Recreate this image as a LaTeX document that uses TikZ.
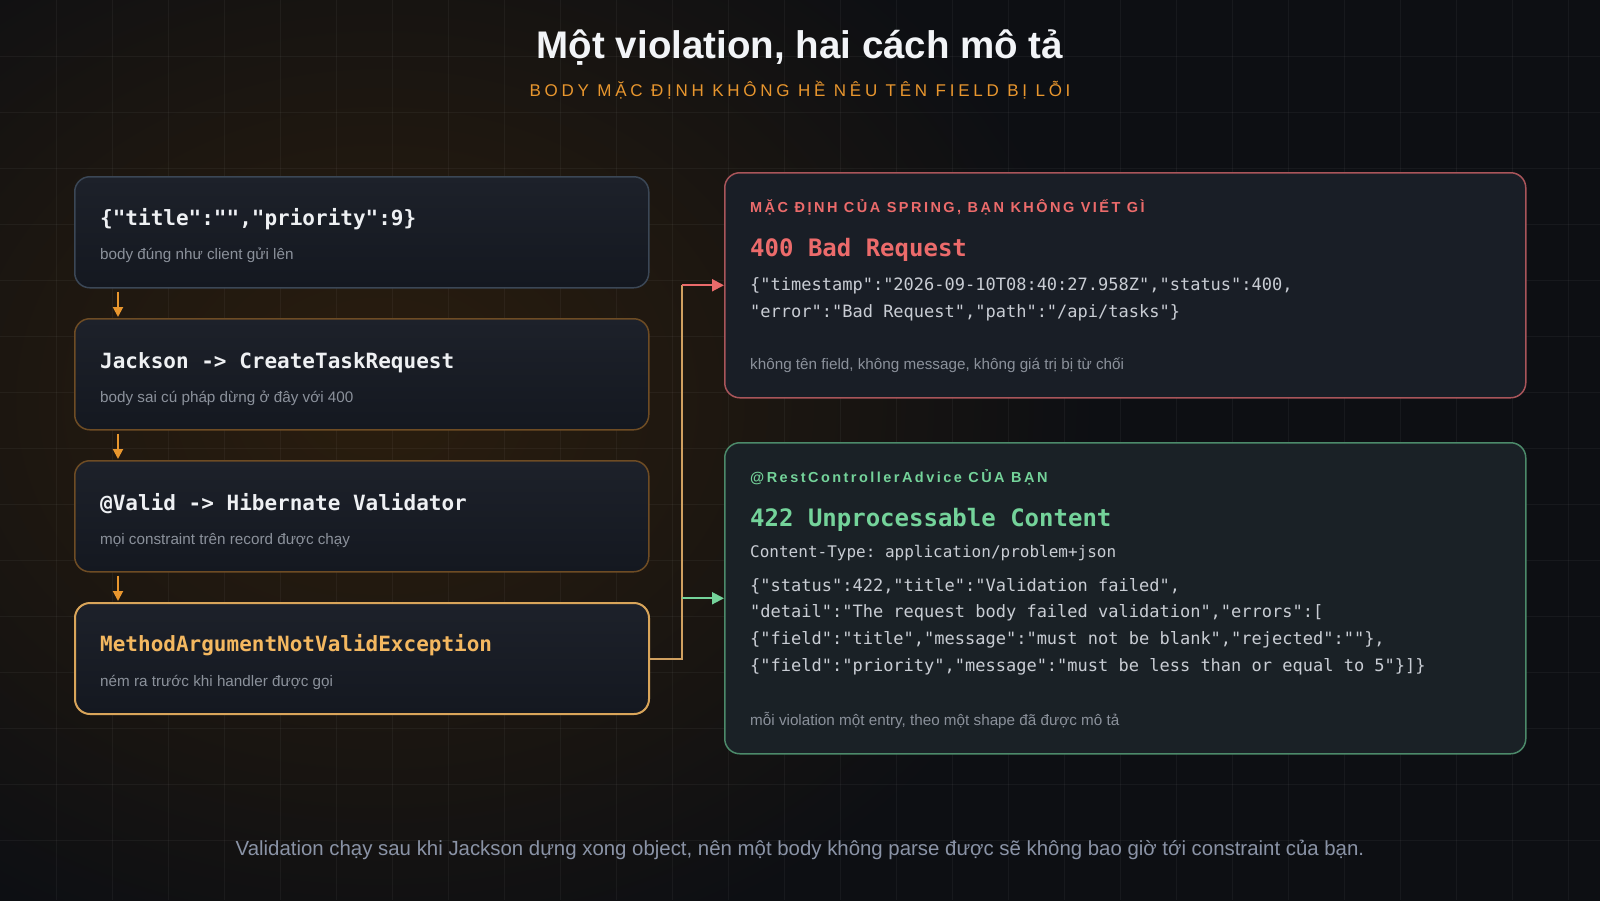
\documentclass[tikz,border=0pt]{standalone}
\usepackage{fontspec}
\setmainfont{Liberation Sans}
\newfontfamily\mono{DejaVu Sans Mono}
\newfontfamily\spaced[LetterSpace=22]{Liberation Sans}
\newfontfamily\lblfont[LetterSpace=17]{Liberation Sans}
\usetikzlibrary{arrows.meta}
\frenchspacing
\definecolor{bgc}{HTML}{0D0F13}
\definecolor{glowc}{HTML}{2A1D0E}
\definecolor{titlec}{HTML}{F2F4F7}
\definecolor{orangec}{HTML}{E8962E}
\definecolor{codewhite}{HTML}{EEF0F3}
\definecolor{subc}{HTML}{8B919B}
\definecolor{goldc}{HTML}{F4B860}
\definecolor{goldborder}{HTML}{D9A55A}
\definecolor{brownborder}{HTML}{6E4C24}
\definecolor{blueborder}{HTML}{3B4756}
\definecolor{redc}{HTML}{EC6B6B}
\definecolor{redborder}{HTML}{A9555A}
\definecolor{greenc}{HTML}{74D39A}
\definecolor{greenborder}{HTML}{4C8A6A}
\definecolor{jsonc}{HTML}{C9CDD4}
\definecolor{bottomc}{HTML}{8A93A6}
\definecolor{tanc}{HTML}{D0A060}
\definecolor{boxtop}{HTML}{1D212A}
\definecolor{boxbot}{HTML}{141820}
\definecolor{rboxfill}{HTML}{191E26}
\definecolor{gboxfill}{HTML}{1A2126}
\pgfdeclareradialshading{glow}{\pgfpoint{0bp}{0bp}}{color(0bp)=(glowc); color(10bp)=(glowc!65!bgc); color(25bp)=(bgc); color(50bp)=(bgc)}
\tikzset{
  gridline/.style={draw=white, draw opacity=0.045, line width=1pt},
  lbox/.style={rounded corners=15pt, line width=1.5pt, top color=boxtop, bottom color=boxbot, minimum width=574pt, minimum height=111pt, anchor=north west, inner sep=0pt},
  rbox/.style={rounded corners=15pt, line width=1.5pt, minimum width=801pt, anchor=north west, inner sep=0pt},
  boxtitle/.style={anchor=base west, inner sep=0pt, font=\mono\bfseries\fontsize{21}{25}\selectfont},
  boxsub/.style={anchor=base west, inner sep=0pt, text=subc, font=\fontsize{15.25}{18}\selectfont},
  rlabel/.style={anchor=base west, inner sep=0pt, font=\lblfont\bfseries\fontsize{14.5}{17}\selectfont},
  rtitle/.style={anchor=base west, inner sep=0pt, font=\mono\bfseries\fontsize{24}{28}\selectfont},
  jsonline/.style={anchor=base west, inner sep=0pt, text=jsonc, font=\mono\fontsize{17}{20}\selectfont},
  stepflow/.style={draw=orangec, line width=2pt, -{Triangle[length=10pt,width=10pt]}},
}
\begin{document}
\begin{tikzpicture}[x=1pt,y=-1pt]
\useasboundingbox (0,0) rectangle (1600,900);
\fill[bgc] (-10,-10) rectangle (1610,910);
\shade[shading=glow] (380,400) ellipse [x radius=720, y radius=580];
\foreach \i in {56,112,...,1568} \draw[gridline] (\i,0) -- (\i,900);
\foreach \j in {56,112,...,840} \draw[gridline] (0,\j) -- (1600,\j);

% title
\node[text=titlec, font=\bfseries\fontsize{38.5}{44}\selectfont, anchor=base, inner sep=0pt] (title) at (800,58) {Một violation, hai cách mô tả};
\node[text=orangec, font=\spaced\fontsize{17}{20}\selectfont, anchor=base, inner sep=0pt] (subtitle) at (800,96) {BODY MẶC ĐỊNH KHÔNG HỀ NÊU TÊN FIELD BỊ LỖI};

% left boxes
\node[lbox, draw=blueborder] (b1) at (74,176) {};
\node[lbox, draw=brownborder] (b2) at (74,318) {};
\node[lbox, draw=brownborder] (b3) at (74,460) {};
\node[lbox, draw=goldborder, line width=2pt] (b4) at (74,602) {};

\node[boxtitle, text=codewhite] (t1) at ([xshift=26pt,yshift=-49pt]b1.north west) {\{"title":"","priority":9\}};
\node[boxsub] (s1) at ([xshift=26pt,yshift=-83pt]b1.north west) {body đúng như client gửi lên};
\node[boxtitle, text=codewhite] (t2) at ([xshift=26pt,yshift=-50pt]b2.north west) {Jackson -> CreateTaskRequest};
\node[boxsub] (s2) at ([xshift=26pt,yshift=-84pt]b2.north west) {body sai cú pháp dừng ở đây với 400};
\node[boxtitle, text=codewhite] (t3) at ([xshift=26pt,yshift=-50pt]b3.north west) {@Valid -> Hibernate Validator};
\node[boxsub] (s3) at ([xshift=26pt,yshift=-84pt]b3.north west) {mọi constraint trên record được chạy};
\node[boxtitle, text=goldc] (t4) at ([xshift=26pt,yshift=-49pt]b4.north west) {MethodArgumentNotValidException};
\node[boxsub] (s4) at ([xshift=26pt,yshift=-84pt]b4.north west) {ném ra trước khi handler được gọi};

\draw[stepflow] ([xshift=44pt,yshift=-3pt]b1.south west) -- ([xshift=44pt,yshift=1pt]b2.north west);
\draw[stepflow] ([xshift=44pt,yshift=-3pt]b2.south west) -- ([xshift=44pt,yshift=1pt]b3.north west);
\draw[stepflow] ([xshift=44pt,yshift=-3pt]b3.south west) -- ([xshift=44pt,yshift=1pt]b4.north west);

% right boxes
\node[rbox, draw=redborder, fill=rboxfill, minimum height=225pt] (red) at (724,172) {};
\node[rbox, draw=greenborder, fill=gboxfill, minimum height=311pt] (green) at (724,442) {};

\node[rlabel, text=redc] (rl) at ([xshift=26pt,yshift=-40pt]red.north west) {MẶC ĐỊNH CỦA SPRING, BẠN KHÔNG VIẾT GÌ};
\node[rtitle, text=redc] (rt) at ([xshift=26pt,yshift=-84pt]red.north west) {400 Bad Request};
\node[jsonline] (rj1) at ([xshift=26pt,yshift=-118pt]red.north west) {\{"timestamp":"2026-09-10T08:40:27.958Z","status":400,};
\node[jsonline] (rj2) at ([xshift=26pt,yshift=-145pt]red.north west) {"error":"Bad Request","path":"/api/tasks"\}};
\node[boxsub] (rf) at ([xshift=26pt,yshift=-197pt]red.north west) {không tên field, không message, không giá trị bị từ chối};

\node[rlabel, text=greenc] (gl) at ([xshift=26pt,yshift=-40pt]green.north west) {@RestControllerAdvice CỦA BẠN};
\node[rtitle, text=greenc] (gt) at ([xshift=26pt,yshift=-84pt]green.north west) {422 Unprocessable Content};
\node[jsonline, font=\mono\fontsize{16}{19}\selectfont] (gc) at ([xshift=26pt,yshift=-115pt]green.north west) {Content-Type: application/problem+json};
\node[jsonline] (gj1) at ([xshift=26pt,yshift=-149pt]green.north west) {\{"status":422,"title":"Validation failed",};
\node[jsonline] (gj2) at ([xshift=26pt,yshift=-175pt]green.north west) {"detail":"The request body failed validation","errors":[};
\node[jsonline] (gj3) at ([xshift=26pt,yshift=-202pt]green.north west) {\{"field":"title","message":"must not be blank","rejected":""\},};
\node[jsonline] (gj4) at ([xshift=26pt,yshift=-229pt]green.north west) {\{"field":"priority","message":"must be less than or equal to 5"\}]\}};
\node[boxsub] (gf) at ([xshift=26pt,yshift=-283pt]green.north west) {mỗi violation một entry, theo một shape đã được mô tả};

% connectors
\coordinate (jx) at (682,0);
\draw[tanc, line width=2pt] (b4.east) -| (jx |- red.west);
\draw[redc, line width=2pt, -{Triangle[length=12pt,width=12pt]}] (jx |- red.west) -- (red.west);
\draw[greenc, line width=2pt, -{Triangle[length=12pt,width=12pt]}] (jx |- green.west) -- (green.west);

% bottom
\node[text=bottomc, font=\fontsize{20.4}{24}\selectfont, anchor=base, inner sep=0pt] (bottom) at (800,855) {Validation chạy sau khi Jackson dựng xong object, nên một body không parse được sẽ không bao giờ tới constraint của bạn.};
\end{tikzpicture}
\end{document}
